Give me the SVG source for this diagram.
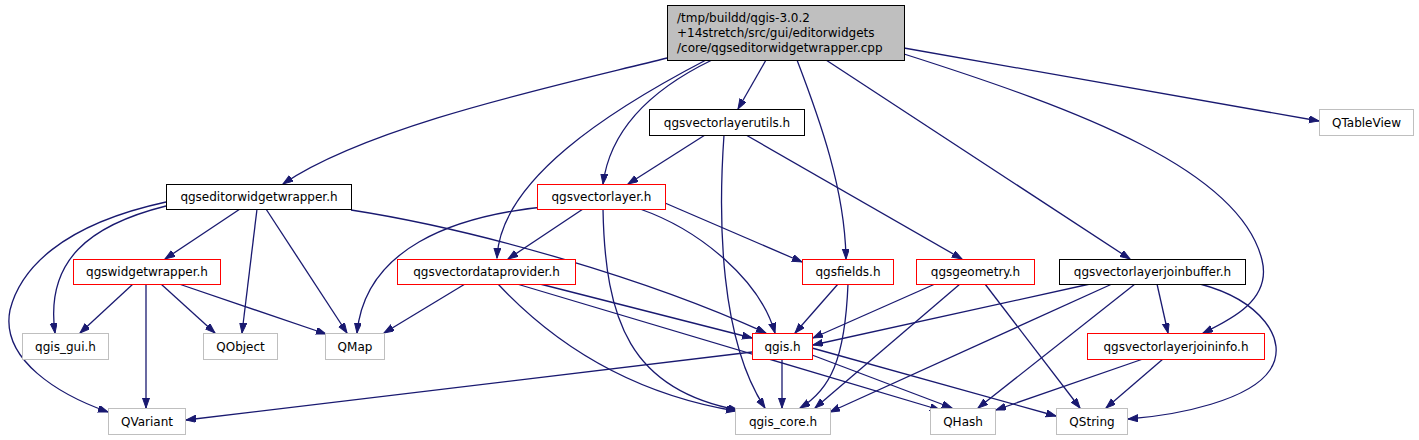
<svg xmlns="http://www.w3.org/2000/svg" width="1419" height="440" viewBox="0 0 1419 440">
<style>
.n rect{fill:#fff;stroke-width:1}
.k rect{stroke:#000}
.r rect{stroke:#ff0000}
.g rect{stroke:#bfbfbf}
text{font-family:"DejaVu Sans","Liberation Sans",sans-serif;font-size:12px;fill:#000}
.c text{text-anchor:middle}
#edges path{fill:none;stroke:#191970;stroke-width:1.3;marker-end:url(#a)}
</style>
<defs>
<marker id="a" markerWidth="11" markerHeight="8" refX="10" refY="3.5" orient="auto" markerUnits="userSpaceOnUse">
<path d="M0,0 L10,3.5 L0,7 z" fill="#191970" stroke="#191970" stroke-width="1"/>
</marker>
</defs>
<rect width="1419" height="440" fill="#fff"/>
<g id="edges">
<path d="M667,58 C560,85 370,125 283,184"/>
<path d="M706,60 C610,110 500,180 497,258"/>
<path d="M712,60 C650,90 610,130 603,184"/>
<path d="M766,60 L738,109"/>
<path d="M797,60 C820,120 845,190 846,259"/>
<path d="M826,60 L1130,259"/>
<path d="M904,54 C1080,110 1240,170 1262,260 C1272,300 1230,320 1203,333"/>
<path d="M904,48 L1319,121"/>
<path d="M705,135 L628,184"/>
<path d="M724,135 C718,220 720,340 765,408"/>
<path d="M746,135 L962,259"/>
<path d="M240,209 L165,259"/>
<path d="M257,209 L242,333"/>
<path d="M266,209 L347,333"/>
<path d="M351,210 C480,230 650,280 766,333"/>
<path d="M166,206 C90,225 45,260 55,333"/>
<path d="M166,202 C60,225 20,270 10,310 C0,360 60,395 108,412"/>
<path d="M133,284 L80,333"/>
<path d="M146,284 L146,408"/>
<path d="M161,284 L215,333"/>
<path d="M179,284 L326,334"/>
<path d="M553,206 C450,215 365,250 357,333"/>
<path d="M583,209 L508,259"/>
<path d="M603,209 C605,320 630,390 738,410"/>
<path d="M465,284 L384,333"/>
<path d="M498,284 C560,350 640,395 736,411"/>
<path d="M517,284 L940,410"/>
<path d="M540,284 L752,338"/>
<path d="M640,209 C700,230 760,280 775,333"/>
<path d="M665,203 L802,262"/>
<path d="M838,284 L795,333"/>
<path d="M848,284 C845,360 830,390 800,408"/>
<path d="M935,284 L813,338"/>
<path d="M960,284 L815,408"/>
<path d="M985,284 L1080,408"/>
<path d="M1090,284 L813,345"/>
<path d="M1112,284 L830,412"/>
<path d="M1135,284 L978,408"/>
<path d="M1157,284 L1168,333"/>
<path d="M1200,284 C1260,300 1290,340 1270,370 C1250,400 1180,415 1128,419"/>
<path d="M752,352 L186,420"/>
<path d="M782,359 L782,408"/>
<path d="M812,355 L952,408"/>
<path d="M812,348 L1056,416"/>
<path d="M1143,359 L996,410"/>
<path d="M1163,359 L1106,408"/>
</g>
<g id="root" class="n k"><rect x="667.5" y="5.5" width="237" height="55" style="fill:#bfbfbf"/>
<text x="677" y="22">/tmp/buildd/qgis-3.0.2</text><text x="677" y="37">+14stretch/src/gui/editorwidgets</text><text x="677" y="52">/core/qgseditorwidgetwrapper.cpp</text></g>
<g id="utils" class="n k c"><rect x="649.5" y="109.5" width="155" height="26"/><text x="727" y="127">qgsvectorlayerutils.h</text></g>
<g id="qtableview" class="n g c"><rect x="1319.5" y="109.5" width="94" height="26"/><text x="1366.5" y="127">QTableView</text></g>
<g id="editor" class="n k c"><rect x="166.5" y="184.5" width="185" height="25"/><text x="259" y="201">qgseditorwidgetwrapper.h</text></g>
<g id="vlayer" class="n r c"><rect x="537.5" y="184.5" width="128" height="25"/><text x="601.5" y="201">qgsvectorlayer.h</text></g>
<g id="widgetwrapper" class="n r c"><rect x="73.5" y="259.5" width="147" height="25"/><text x="147" y="276">qgswidgetwrapper.h</text></g>
<g id="dataprovider" class="n r c"><rect x="397.5" y="259.5" width="178" height="25"/><text x="486.5" y="276">qgsvectordataprovider.h</text></g>
<g id="fields" class="n r c"><rect x="802.5" y="259.5" width="91" height="25"/><text x="848" y="276">qgsfields.h</text></g>
<g id="geometry" class="n r c"><rect x="916.5" y="259.5" width="118" height="25"/><text x="975.5" y="276">qgsgeometry.h</text></g>
<g id="joinbuffer" class="n k c"><rect x="1059.5" y="259.5" width="186" height="25"/><text x="1152.5" y="276">qgsvectorlayerjoinbuffer.h</text></g>
<g id="qgis_gui" class="n g c"><rect x="22.5" y="333.5" width="86" height="26"/><text x="65.5" y="351">qgis_gui.h</text></g>
<g id="qobject" class="n g c"><rect x="203.5" y="333.5" width="74" height="26"/><text x="240.5" y="351">QObject</text></g>
<g id="qmap" class="n g c"><rect x="325.5" y="333.5" width="59" height="26"/><text x="355" y="351">QMap</text></g>
<g id="qgis" class="n r c"><rect x="752.5" y="333.5" width="60" height="26"/><text x="782.5" y="351">qgis.h</text></g>
<g id="joininfo" class="n r c"><rect x="1087.5" y="333.5" width="177" height="26"/><text x="1176" y="351">qgsvectorlayerjoininfo.h</text></g>
<g id="qvariant" class="n g c"><rect x="108.5" y="408.5" width="77" height="26"/><text x="147" y="426">QVariant</text></g>
<g id="qgis_core" class="n g c"><rect x="735.5" y="408.5" width="95" height="26"/><text x="783" y="426">qgis_core.h</text></g>
<g id="qhash" class="n g c"><rect x="930.5" y="408.5" width="65" height="26"/><text x="963" y="426">QHash</text></g>
<g id="qstring" class="n g c"><rect x="1056.5" y="408.5" width="71" height="26"/><text x="1092" y="426">QString</text></g>
</svg>
